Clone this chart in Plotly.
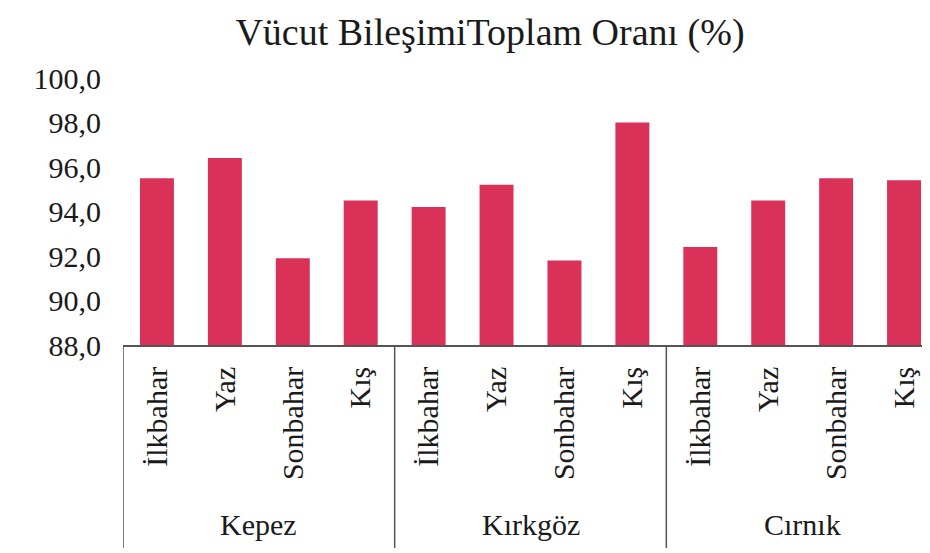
import plotly.graph_objects as go

groups = ["Kepez", "Kırkgöz", "Cırnık"]
seasons = ["İlkbahar", "Yaz", "Sonbahar", "Kış"]
kepez = [95.5, 96.4, 91.9, 94.5]
kirkgoz = [94.2, 95.2, 91.8, 98.0]
cirnik = [92.4, 94.5, 95.5, 95.4]
y_ticks = [88, 90, 92, 94, 96, 98, 100]

values = kepez + kirkgoz + cirnik
labels = seasons * len(groups)
xpos = list(range(len(values)))

FONT = "Liberation Serif, Times New Roman, DejaVu Serif, serif"
TXT = "#1a1a1a"

fig = go.Figure()
fig.add_trace(go.Bar(
    x=xpos, y=values,
    marker=dict(color="#DA3159", line=dict(width=0)),
    width=0.5,
    showlegend=False,
))

n_per = len(seasons)
shapes = []
annotations = []
for gi, g in enumerate(groups):
    left = gi * n_per - 0.5
    shapes.append(dict(type="line", xref="x", yref="paper",
                       x0=left, x1=left, y0=0, y1=-0.76,
                       line=dict(color="#555555", width=1.5)))
    annotations.append(dict(text=g, xref="x", yref="paper",
                            x=gi * n_per + (n_per - 1) / 2, y=-0.674,
                            showarrow=False, yanchor="middle",
                            font=dict(family=FONT, size=30, color=TXT)))

fig.update_layout(
    width=930, height=553,
    margin=dict(l=115, r=0, t=70, b=216),
    paper_bgcolor="white", plot_bgcolor="white",
    separators=",.",
    title=dict(text="Vücut BileşimiToplam Oranı (%)",
               x=482 / 930, xref="container", xanchor="center",
               y=1 - 24 / 553, yref="container", yanchor="middle",
               font=dict(family=FONT, size=38, color=TXT)),
    shapes=shapes,
    annotations=annotations,
    bargap=0.5,
)
fig.update_xaxes(
    range=[-0.5, 11.5],
    tickvals=xpos, ticktext=labels, tickangle=-90,
    ticks="", showgrid=False, zeroline=False,
    showline=True, linecolor="#555555", linewidth=1.5,
    ticklabelstandoff=8,
    tickfont=dict(family=FONT, size=30, color=TXT),
)
fig.update_yaxes(
    range=[88, 100],
    tickvals=y_ticks, tickformat=".1f",
    ticks="", showgrid=False, zeroline=False, showline=False,
    ticklabelstandoff=21,
    tickfont=dict(family=FONT, size=30, color=TXT),
)

fig.write_html("out.html")
